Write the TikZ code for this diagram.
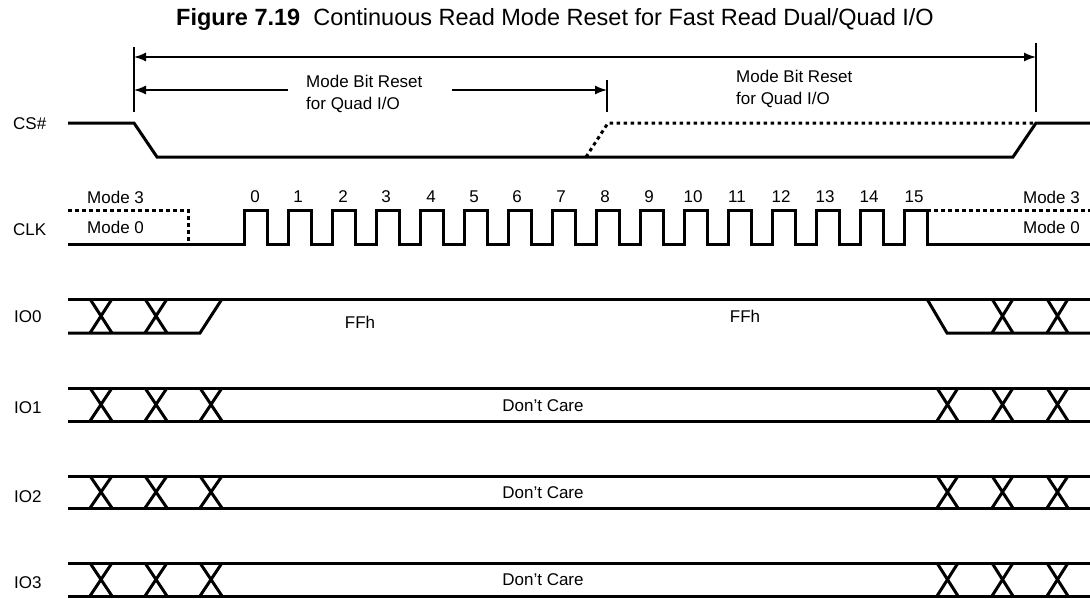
\documentclass[tikz,border=0pt]{standalone}
\usepackage{fontspec}
\setmainfont{Liberation Sans}
\usetikzlibrary{arrows.meta}

\tikzset{
  sig/.style={line width=3pt, line join=miter},
  dotsig/.style={line width=3pt, dash pattern=on 3.5pt off 3.5pt},
  markline/.style={line width=2pt},
  dimarrow/.style={line width=1.4pt},
  txt/.style={font=\fontsize{17}{22}\selectfont, inner sep=0pt},
}

\begin{document}
\begin{tikzpicture}[x=1pt,y=-1pt]
\useasboundingbox (0,0) rectangle (1090,598);
\node[anchor=base west, inner sep=0pt, font=\fontsize{23.5}{26}\selectfont] (title) at (176,25) {\textbf{Figure 7.19}\ \ Continuous Read Mode Reset for Fast Read Dual/Quad I/O};
% markers
\coordinate (ma) at (134,57);
\coordinate (mb) at (1036,57);
\coordinate (mc) at (134,90);
\coordinate (md) at (607,90);
\draw[markline] (134,47) -- (134,112);
\draw[markline] (1036,43) -- (1036,112);
\draw[markline] (607,80) -- (607,112);
\draw[dimarrow, {Latex[length=12pt,width=9pt]}-{Latex[length=12pt,width=9pt]}] (ma) -- (mb);
\node[txt, anchor=base west, align=left] (reset1) at (306,109) {Mode Bit Reset\\for Quad I/O};
\node[txt, anchor=base west, align=left] (reset2) at (736,104) {Mode Bit Reset\\for Quad I/O};
\draw[dimarrow, {Latex[length=12pt,width=9pt]}-] (mc) -- (288,90);
\draw[dimarrow, -{Latex[length=12pt,width=9pt]}] (452,90) -- (md);
% signal names
\node[txt, anchor=base west] (lcs) at (13,129) {CS\#};
\node[txt, anchor=base west] (lclk) at (13,235) {CLK};
\node[txt, anchor=base west] (lio0) at (14,322) {IO0};
\node[txt, anchor=base west] (lio1) at (14,413) {IO1};
\node[txt, anchor=base west] (lio2) at (14,502) {IO2};
\node[txt, anchor=base west] (lio3) at (14,588) {IO3};
% CS#
\draw[sig] (68,123) -- (134,123) -- (157,157) -- (1013,157) -- (1036,123) -- (1090,123);
\draw[dotsig] (586,157) -- (608,123) -- (1036,123);
% CLK
\node[txt, anchor=base west] (m3l) at (87,203) {Mode 3};
\node[txt, anchor=base west] (m0l) at (87,233) {Mode 0};
\node[txt, anchor=base east] (m3r) at (1080,203) {Mode 3};
\node[txt, anchor=base east] (m0r) at (1080,233) {Mode 0};
\draw[dotsig] (68,210) -- (188,210) -- (188,244);
\draw[dotsig] (927,210) -- (1090,210);
\draw[sig] (68,244) -- (244,244)
  -- ++(0,-34) -- ++(23,0) -- ++(0,34) -- ++(21,0)
  -- ++(0,-34) -- ++(23,0) -- ++(0,34) -- ++(21,0)
  -- ++(0,-34) -- ++(23,0) -- ++(0,34) -- ++(21,0)
  -- ++(0,-34) -- ++(23,0) -- ++(0,34) -- ++(21,0)
  -- ++(0,-34) -- ++(23,0) -- ++(0,34) -- ++(21,0)
  -- ++(0,-34) -- ++(23,0) -- ++(0,34) -- ++(21,0)
  -- ++(0,-34) -- ++(23,0) -- ++(0,34) -- ++(21,0)
  -- ++(0,-34) -- ++(23,0) -- ++(0,34) -- ++(21,0)
  -- ++(0,-34) -- ++(23,0) -- ++(0,34) -- ++(21,0)
  -- ++(0,-34) -- ++(23,0) -- ++(0,34) -- ++(21,0)
  -- ++(0,-34) -- ++(23,0) -- ++(0,34) -- ++(21,0)
  -- ++(0,-34) -- ++(23,0) -- ++(0,34) -- ++(21,0)
  -- ++(0,-34) -- ++(23,0) -- ++(0,34) -- ++(21,0)
  -- ++(0,-34) -- ++(23,0) -- ++(0,34) -- ++(21,0)
  -- ++(0,-34) -- ++(23,0) -- ++(0,34) -- ++(21,0)
  -- ++(0,-34) -- ++(23,0) -- ++(0,34) -- (1090,244);
\node[txt, anchor=base] (c0) at (255,202) {0};
\node[txt, anchor=base] (c1) at (298,202) {1};
\node[txt, anchor=base] (c2) at (343,202) {2};
\node[txt, anchor=base] (c3) at (386,202) {3};
\node[txt, anchor=base] (c4) at (431,202) {4};
\node[txt, anchor=base] (c5) at (474,202) {5};
\node[txt, anchor=base] (c6) at (517,202) {6};
\node[txt, anchor=base] (c7) at (561,202) {7};
\node[txt, anchor=base] (c8) at (605,202) {8};
\node[txt, anchor=base] (c9) at (649,202) {9};
\node[txt, anchor=base] (c10) at (693,202) {10};
\node[txt, anchor=base] (c11) at (737,202) {11};
\node[txt, anchor=base] (c12) at (781,202) {12};
\node[txt, anchor=base] (c13) at (825,202) {13};
\node[txt, anchor=base] (c14) at (869,202) {14};
\node[txt, anchor=base] (c15) at (914,202) {15};
% IO0
\draw[sig] (68,299) -- (1090,299);
\draw[sig] (68,333) -- (200,333) -- (222,299);
\draw[sig] (927,299) -- (947,333) -- (1090,333);
\draw[sig] (90,299) -- (112,333) (90,333) -- (112,299);
\draw[sig] (145,299) -- (167,333) (145,333) -- (167,299);
\draw[sig] (992,299) -- (1013,333) (992,333) -- (1013,299);
\draw[sig] (1047,299) -- (1068,333) (1047,333) -- (1068,299);
\node[txt, anchor=base] (ff1) at (360,328) {FFh};
\node[txt, anchor=base] (ff2) at (745,322) {FFh};
% IO1
\draw[sig] (68,388) -- (1090,388);
\draw[sig] (68,421) -- (1090,421);
\draw[sig] (90,388) -- (112,421) (90,421) -- (112,388);
\draw[sig] (145,388) -- (167,421) (145,421) -- (167,388);
\draw[sig] (200,388) -- (222,421) (200,421) -- (222,388);
\draw[sig] (937,388) -- (958,421) (937,421) -- (958,388);
\draw[sig] (992,388) -- (1013,421) (992,421) -- (1013,388);
\draw[sig] (1047,388) -- (1068,421) (1047,421) -- (1068,388);
\node[txt, anchor=base] (dc1) at (543,411) {Don't Care};
% IO2
\draw[sig] (68,476) -- (1090,476);
\draw[sig] (68,508) -- (1090,508);
\draw[sig] (90,476) -- (112,508) (90,508) -- (112,476);
\draw[sig] (145,476) -- (167,508) (145,508) -- (167,476);
\draw[sig] (200,476) -- (222,508) (200,508) -- (222,476);
\draw[sig] (937,476) -- (958,508) (937,508) -- (958,476);
\draw[sig] (992,476) -- (1013,508) (992,508) -- (1013,476);
\draw[sig] (1047,476) -- (1068,508) (1047,508) -- (1068,476);
\node[txt, anchor=base] (dc2) at (543,498) {Don't Care};
% IO3
\draw[sig] (68,563) -- (1090,563);
\draw[sig] (68,596) -- (1090,596);
\draw[sig] (90,563) -- (112,596) (90,596) -- (112,563);
\draw[sig] (145,563) -- (167,596) (145,596) -- (167,563);
\draw[sig] (200,563) -- (222,596) (200,596) -- (222,563);
\draw[sig] (937,563) -- (958,596) (937,596) -- (958,563);
\draw[sig] (992,563) -- (1013,596) (992,596) -- (1013,563);
\draw[sig] (1047,563) -- (1068,596) (1047,596) -- (1068,563);
\node[txt, anchor=base] (dc3) at (543,585) {Don't Care};
\end{tikzpicture}
\end{document}
